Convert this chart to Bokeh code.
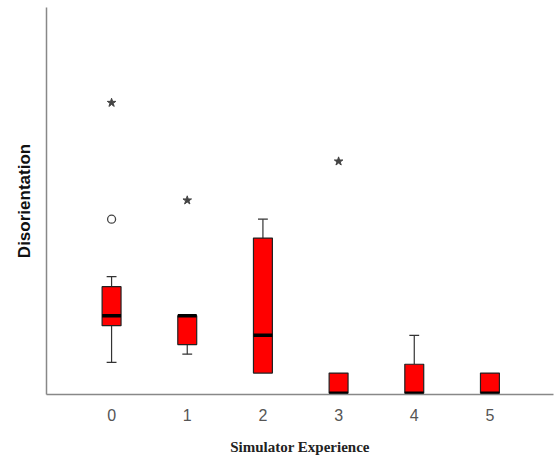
from bokeh.plotting import figure
from bokeh.models import Range1d, FixedTicker
from bokeh.embed import file_html
from bokeh.resources import INLINE

# Data (Disorientation scores, arbitrary 0-100 scale)
categories = [0, 1, 2, 3, 4, 5]
q1 = [17.5, 12.6, 5.2, 0.0, 0.0, 0.0]
median = [20.1, 20.1, 15.0, 0.0, 0.0, 0.0]
q3 = [27.6, 20.1, 40.2, 5.2, 7.5, 5.2]
whisker_low = [8.0, 10.1, 5.2, 0.0, 0.0, 0.0]
whisker_high = [30.2, 20.1, 45.1, 5.2, 15.0, 5.2]

# outliers: circles (mild) and stars (extreme)
mild_x = [0]
mild_y = [45.1]
extreme_x = [0, 1, 3]
extreme_y = [75.3, 50.0, 60.1]

tick_labels = ["0", "1", "2", "3", "4", "5"]

BOX_W = 0.25
CAP_W = 0.13

p = figure(width=555, height=461, output_backend="svg", toolbar_location=None,
           x_range=Range1d(-0.86, 5.84), y_range=Range1d(-0.35, 100),
           min_border_left=46, min_border_right=2, min_border_top=7,
           min_border_bottom=67)
p.outline_line_color = None
p.xgrid.grid_line_color = None
p.ygrid.grid_line_color = None
p.background_fill_color = "white"
p.border_fill_color = "white"

# whiskers
up_x = [c for c, a, b in zip(categories, q3, whisker_high) if b > a]
up_y0 = [a for a, b in zip(q3, whisker_high) if b > a]
up_y1 = [b for a, b in zip(q3, whisker_high) if b > a]
lo_x = [c for c, a, b in zip(categories, q1, whisker_low) if b < a]
lo_y0 = [a for a, b in zip(q1, whisker_low) if b < a]
lo_y1 = [b for a, b in zip(q1, whisker_low) if b < a]

wx = up_x + lo_x
wy0 = up_y0 + lo_y0
wy1 = up_y1 + lo_y1
p.segment(x0=wx, y0=wy0, x1=wx, y1=wy1, line_color="#333333", line_width=1.2)
p.segment(x0=[x - CAP_W / 2 for x in wx], y0=wy1,
          x1=[x + CAP_W / 2 for x in wx], y1=wy1,
          line_color="#333333", line_width=1.2)

# boxes
p.vbar(x=categories, width=BOX_W, bottom=q1, top=q3,
       fill_color="#FF0000", line_color="#222222", line_width=1.2)

# medians
p.segment(x0=[c - BOX_W / 2 for c in categories], y0=median,
          x1=[c + BOX_W / 2 for c in categories], y1=median,
          line_color="black", line_width=3.5)

# outliers
p.scatter(mild_x, mild_y, marker="circle", size=8, fill_color="white",
          line_color="#444444", line_width=1.3)
p.scatter(extreme_x, extreme_y, marker="star", size=9, fill_color="#444444",
          line_color="#444444")

# x axis
p.xaxis.ticker = FixedTicker(ticks=categories)
p.xaxis.major_label_overrides = {c: t for c, t in zip(categories, tick_labels)}
p.xaxis.major_tick_line_color = None
p.xaxis.minor_tick_line_color = None
p.xaxis.axis_line_color = "#888888"
p.xaxis.axis_line_width = 1.5
p.xaxis.major_label_text_font = "Liberation Sans"
p.xaxis.major_label_text_font_size = "16px"
p.xaxis.major_label_text_color = "#555555"
p.xaxis.major_label_standoff = 8
p.xaxis.axis_label = "Simulator Experience"
p.xaxis.axis_label_text_font = "Liberation Serif"
p.xaxis.axis_label_text_font_style = "bold"
p.xaxis.axis_label_text_font_size = "15px"
p.xaxis.axis_label_text_color = "#222222"
p.xaxis.axis_label_standoff = 15

# y axis
p.yaxis.ticker = FixedTicker(ticks=[])
p.yaxis.major_tick_line_color = None
p.yaxis.minor_tick_line_color = None
p.yaxis.major_tick_out = 0
p.yaxis.axis_line_color = "#888888"
p.yaxis.axis_line_width = 1.5
p.yaxis.axis_label = "Disorientation"
p.yaxis.axis_label_text_font = "Liberation Sans"
p.yaxis.axis_label_text_font_style = "bold"
p.yaxis.axis_label_text_font_size = "17px"
p.yaxis.axis_label_text_color = "#111111"
p.yaxis.axis_label_standoff = 13

open("out.html", "w").write(file_html(p, INLINE))
